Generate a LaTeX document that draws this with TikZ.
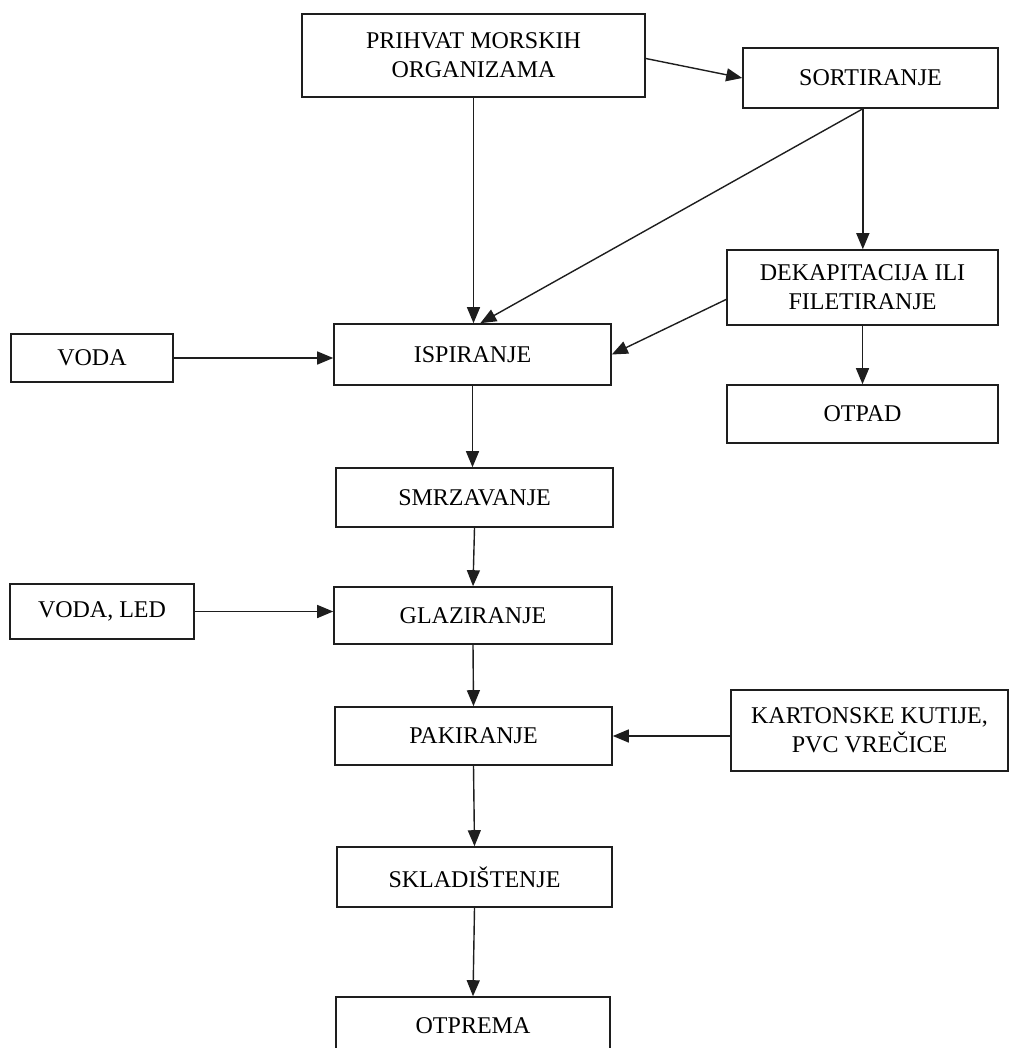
\documentclass[tikz,border=0pt]{standalone}
\usepackage{fontspec}
\setmainfont{Liberation Serif}
\usetikzlibrary{arrows.meta}
\definecolor{inkc}{RGB}{30,30,30}

\begin{document}
\begin{tikzpicture}[x=0.5pt, y=-0.5pt, >={Triangle[length=8pt,width=6.5pt]},
  font=\fontsize{12}{14.5}\selectfont,
  box/.style 2 args={draw=inkc, line width=0.8pt, inner sep=0pt, align=center,
    minimum width=#1*0.5pt, minimum height=#2*0.5pt},
  flow/.style={->, draw=inkc, line width=0.7pt}]

  % page frame (pixel grid of the scan)
  \path[use as bounding box, clip] (0,0) rectangle (1011,1048);

  % main line
  \node[box={343}{83}] (prihvat) at (473.5,55.5) {PRIHVAT MORSKIH\\ORGANIZAMA};
  \node[box={277}{61}] (ispir)   at (472.5,354.5) {ISPIRANJE};
  \node[box={277}{59}] (smrz)    at (474.5,497.5) {SMRZAVANJE};
  \node[box={278}{57}] (glaz)    at (473,615.5)   {GLAZIRANJE};
  \node[box={277}{58}] (pakir)   at (473.5,736)   {PAKIRANJE};
  \node[box={275}{60}] (sklad)   at (474.5,877)   {SKLADIŠTENJE};
  \node[box={274}{58}] (otprema) at (473,1026)    {OTPREMA};

  % right branch
  \node[box={255}{60}] (sort)   at (870.5,78)    {SORTIRANJE};
  \node[box={271}{75}] (dekap)  at (862.5,287.5) {DEKAPITACIJA ILI\\FILETIRANJE};
  \node[box={271}{58}] (otpad)  at (862.5,414)   {OTPAD};
  \node[box={277}{81}] (karton) at (869.5,730.5) {KARTONSKE KUTIJE,\\PVC VREČICE};

  % inputs on the left
  \node[box={162}{48}] (voda)    at (92,358)    {VODA};
  \node[box={184}{55}] (vodaled) at (102,611.5) {VODA, LED};

  % flows
  \draw[flow] (prihvat.-1) -- (sort.west);
  \draw[flow] (prihvat.south) -- (prihvat.south |- ispir.north);
  \draw[flow] (sort.256) -- (ispir.76);
  \draw[flow] (sort.256) -- (sort.256 |- dekap.north);
  \draw[flow] (dekap.185) -- (ispir.east);
  \draw[flow] (dekap.south) -- (otpad.north);
  \draw[flow] (voda.east) -- (voda.east -| ispir.west);
  \draw[flow] (ispir.south) -- (ispir.south |- smrz.north);
  \draw[flow] (smrz.south) -- (glaz.north);
  \draw[flow] (vodaled.east) -- (vodaled.east -| glaz.west);
  \draw[flow] (glaz.south) -- (pakir.north);
  \draw[flow] (karton.west |- pakir.east) -- (pakir.east);
  \draw[flow] (pakir.south) -- (sklad.north);
  \draw[flow] (sklad.south) -- (otprema.north);
\end{tikzpicture}
\end{document}
